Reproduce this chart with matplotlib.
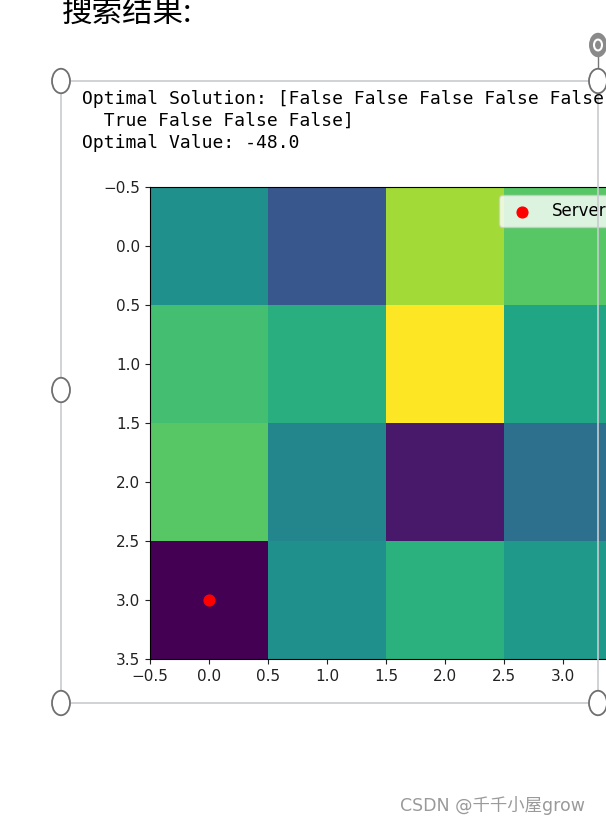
import matplotlib.pyplot as plt
from matplotlib.patches import Circle, Rectangle
import numpy as np

plt.rcParams['font.family'] = ['DejaVu Sans', 'Noto Sans CJK SC']

# cell values (normalised 0..1)
grid = np.array([
    [0.50, 0.27, 0.86, 0.74],
    [0.70, 0.63, 1.00, 0.59],
    [0.74, 0.46, 0.07, 0.37],
    [0.00, 0.50, 0.64, 0.54],
])
server_x = [0]
server_y = [3]
ticks = [-0.5, 0.0, 0.5, 1.0, 1.5, 2.0, 2.5, 3.0, 3.5]

W, H = 606, 824
fig = plt.figure(figsize=(W / 100, H / 100), dpi=100)

def px(x, y):
    return x / W, 1 - y / H

# heading of the document
fig.text(*px(62, 22), '搜索结果:', fontsize=22, family=['Noto Sans CJK SC'],
         color='black', va='baseline')

# selection frame of the embedded image
fig.patches.append(Rectangle(px(61, 703), (598 - 61) / W, (703 - 81) / H,
                             transform=fig.transFigure, fill=False,
                             edgecolor='#c8cbd0', lw=1.2))
fig.lines.append(plt.Line2D([598 / W, 598 / W], [1 - 45 / H, 1 - 81 / H],
                            transform=fig.transFigure, color='#777777', lw=1))
for hx, hy in [(61, 81), (598, 81), (61, 390), (61, 703), (598, 703)]:
    fig.patches.append(Circle(px(hx, hy), 9 / W, transform=fig.transFigure,
                              facecolor='white', edgecolor='#6f6f6f', lw=1.3,
                              zorder=5))
fig.patches.append(Circle(px(598, 45), 9 / W, transform=fig.transFigure,
                          facecolor='#8a8a8a', edgecolor='none', zorder=5))
fig.patches.append(Circle(px(598, 45), 4 / W, transform=fig.transFigure,
                          facecolor='none', edgecolor='white', lw=1.5, zorder=6))

# printed output
mono = dict(family='DejaVu Sans Mono', fontsize=13, color='black', va='baseline')
fig.text(*px(82, 104), 'Optimal Solution: [False False False False False', **mono)
fig.text(*px(82, 126), '  True False False False]', **mono)
fig.text(*px(82, 148), 'Optimal Value: -48.0', **mono)

# heatmap axes (right part is cut off by the screenshot)
ax = fig.add_axes([150 / W, 1 - 659 / H, 472 / W, 472 / H])
ax.imshow(grid, cmap='viridis')
ax.scatter(server_x, server_y, color='red', s=60, label='Server', zorder=3)
ax.set_xticks(ticks)
ax.set_yticks(ticks)
ax.tick_params(labelsize=11, colors='#222222')
ax.legend(loc='upper right', fontsize=12)

# watermark
fig.text(*px(400, 811), 'CSDN @千千小屋grow', fontsize=12.5,
         family=['DejaVu Sans', 'Noto Sans CJK SC'], color='#9a9a9a')

fig.savefig('out.png', dpi=100)
